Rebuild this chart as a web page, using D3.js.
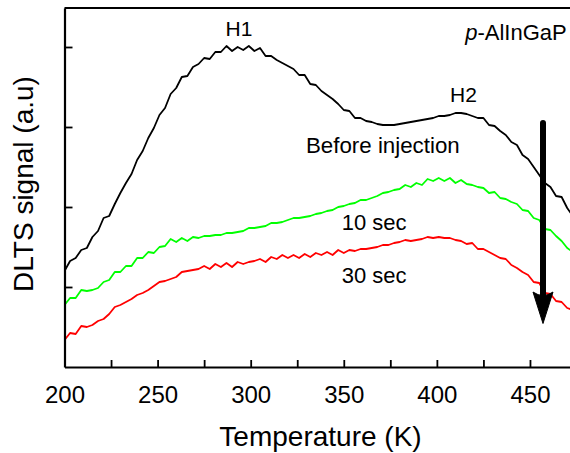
<!DOCTYPE html>
<html>
<head>
<meta charset="utf-8">
<script src="https://cdn.jsdelivr.net/npm/d3@7"></script>
<style>
  html, body { margin: 0; padding: 0; background: #fff; }
  svg { display: block; font-family: "Liberation Sans", Arial, sans-serif; }
</style>
</head>
<body>
<svg id="chart" width="570" height="453"></svg>
<script>
// Temperature (K) sample points
const temperature = [200,203,206,209,212,215,218,221,224,227,230,233,236,239,242,245,248,251,254,257,260,263,266,269,272,275,278,281,284,287,290,293,296,299,302,305,308,311,314,317,320,323,326,329,332,335,338,341,344,347,350,353,356,359,362,365,368,371,374,377,380,383,386,389,392,395,398,401,404,407,410,413,416,419,422,425,428,431,434,437,440,443,446,449,452,455,458,461,464,467,470,473];

// DLTS signal (arbitrary units)
const beforeInjection = [96,106,109,117,119,130,136,149,151,163,174,184,193,207,216,229,239,252,259,273,279,290,291,300,303,309,308,315,315,321,316,320,317,321,316,319,311,311,307,304,301,298,292,292,283,282,276,272,268,263,257,256,249,249,246,245,243,242,242,242,243,244,245,246,247,248,249,251,251,252,254,254,253,251,249,249,242,241,236,232,225,222,212,208,200,192,184,180,171,170,159,151];

const after10s = [62,69,69,77,76,77,79,85,87,95,95,101,101,109,109,115,114,120,121,128,125,129,126,130,129,131,131,132,132,134,134,135,136,139,139,140,141,144,144,145,147,149,149,150,151,153,154,156,157,160,161,163,164,167,167,169,171,174,175,177,178,182,180,184,182,188,186,189,186,189,184,187,183,182,180,179,174,175,169,168,165,163,157,156,149,147,138,137,131,126,119,115];

const after30s = [27,34,33,41,40,42,46,48,53,60,62,65,68,72,74,77,81,85,86,88,90,95,96,97,98,101,98,103,100,104,100,105,103,105,106,108,105,110,108,112,109,112,109,113,110,114,112,115,112,117,114,117,116,118,118,119,120,122,122,124,125,127,126,127,128,130,129,130,129,129,127,126,123,124,118,118,115,112,109,108,102,99,95,92,85,84,74,73,66,65,59,57];

const xTicks = [200,225,250,275,300,325,350,375,400,425,450];
const xLabels = [200,250,300,350,400,450];
const yTicks = [80,160,240,320];

const series = [
  { name: "Before injection", values: beforeInjection, color: "#000000" },
  { name: "10 sec", values: after10s, color: "#00ff00" },
  { name: "30 sec", values: after30s, color: "#ff0000" }
];

const svg = d3.select("#chart");
const L = 64.5, R = 570, T = 8, B = 367;

const x = d3.scaleLinear().domain([200, 471.5]).range([L, R]);
const y = d3.scaleLinear().domain([0, 359]).range([B, T]);

svg.append("defs").append("clipPath").attr("id", "clip")
  .append("rect").attr("x", L).attr("y", T).attr("width", R - L).attr("height", B - T);

// curves
const line = d3.line().x((d, i) => x(temperature[i])).y(d => y(d));
const g = svg.append("g").attr("clip-path", "url(#clip)");
series.forEach(s => {
  g.append("path").datum(s.values)
    .attr("fill", "none")
    .attr("stroke", s.color)
    .attr("stroke-width", 1.8)
    .attr("stroke-linejoin", "round")
    .attr("d", line);
});

// x axis
const xAxis = d3.axisBottom(x)
  .tickValues(xTicks)
  .tickSizeInner(-7).tickSizeOuter(0).tickPadding(19)
  .tickFormat(d => xLabels.includes(d) ? String(d) : "");
const gx = svg.append("g").attr("transform", `translate(0,${B})`).call(xAxis);
gx.select(".domain").attr("stroke-width", 2.2);
gx.selectAll(".tick line").attr("stroke-width", 1.8);
gx.selectAll(".tick text").attr("font-size", 24).attr("fill", "#000")
  .attr("font-family", "Liberation Sans, Arial, sans-serif");

// y axis
const yAxis = d3.axisLeft(y).tickValues(yTicks)
  .tickSizeInner(-8).tickSizeOuter(0).tickFormat("");
const gy = svg.append("g").attr("transform", `translate(${L},0)`).call(yAxis);
gy.select(".domain").attr("stroke-width", 2.2);
gy.selectAll(".tick line").attr("stroke-width", 1.8);

// top frame
svg.append("line").attr("x1", L).attr("x2", R).attr("y1", T).attr("y2", T)
  .attr("stroke", "#000").attr("stroke-width", 2.2);

// axis titles
svg.append("text").attr("x", 320.5).attr("y", 446)
  .attr("text-anchor", "middle").attr("font-size", 28).text("Temperature (K)");
svg.append("text").attr("transform", "translate(33,184) rotate(-90)")
  .attr("text-anchor", "middle").attr("font-size", 28).text("DLTS signal (a.u)");

// annotations
function label(tx, ty, txt, size, anchor) {
  return svg.append("text").attr("x", tx).attr("y", ty)
    .attr("font-size", size).attr("text-anchor", anchor || "start").text(txt);
}
label(239, 35.7, "H1", 21, "middle");
label(463.5, 101.7, "H2", 21, "middle");
label(306, 153.3, "Before injection", 22.3);
label(341.7, 230, "10 sec", 22);
label(341.7, 283.3, "30 sec", 22);
const pt = svg.append("text").attr("x", 566.7).attr("y", 40)
  .attr("font-size", 22).attr("text-anchor", "end");
pt.append("tspan").attr("font-style", "italic").text("p");
pt.append("tspan").text("-AlInGaP");

// arrow
const ax = 543;
svg.append("line").attr("x1", ax).attr("x2", ax).attr("y1", 123).attr("y2", 300)
  .attr("stroke", "#000").attr("stroke-width", 6).attr("stroke-linecap", "round");
svg.append("path")
  .attr("d", `M${ax},323.5 L${ax - 10},292 Q${ax},299 ${ax + 10},292 Z`)
  .attr("fill", "#000").attr("stroke", "#000").attr("stroke-width", 1).attr("stroke-linejoin", "round");
</script>
</body>
</html>
